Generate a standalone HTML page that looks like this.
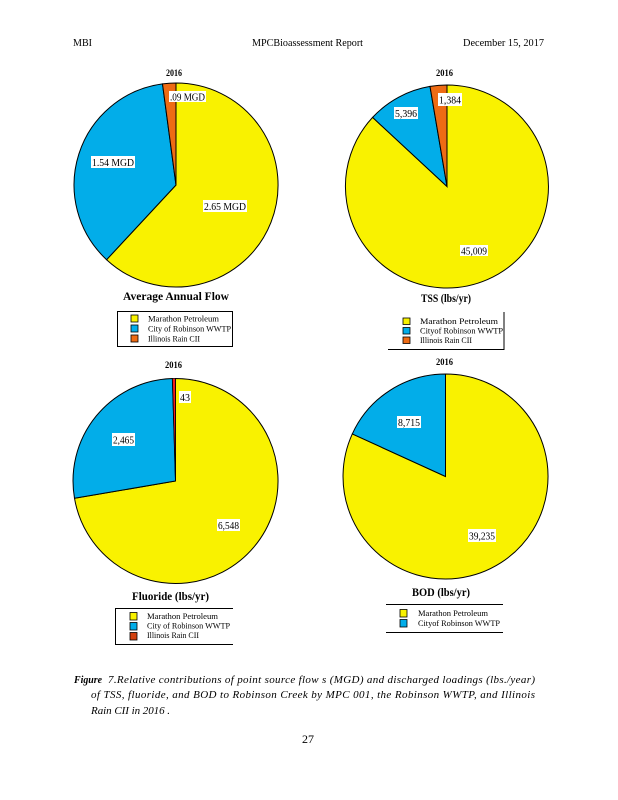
<!DOCTYPE html>
<html>
<head>
<meta charset="utf-8">
<style>
html,body{margin:0;padding:0;background:#fff;}
svg{display:block;}
text{font-family:"Liberation Serif",serif;fill:#000;}
</style>
</head>
<body>
<svg width="618" height="800" viewBox="0 0 618 800" xmlns="http://www.w3.org/2000/svg">
<rect width="618" height="800" fill="#fff"/>

<!-- Header -->
<text x="73" y="46" font-size="10.5" textLength="19" lengthAdjust="spacingAndGlyphs">MBI</text>
<text x="252" y="46" font-size="10.5" textLength="111" lengthAdjust="spacingAndGlyphs">MPCBioassessment Report</text>
<text x="463" y="46" font-size="10.5" textLength="81" lengthAdjust="spacingAndGlyphs">December  15, 2017</text>

<!-- ===== Top-left: Average Annual Flow ===== -->
<text x="166" y="76" font-size="9.5" font-weight="bold" textLength="16" lengthAdjust="spacingAndGlyphs">2016</text>
<g stroke="#000" stroke-width="1">
<path d="M176,185 L176,83 A102,102 0 1 1 106.6,259.7 Z" fill="#F9F200"/>
<path d="M176,185 L106.6,259.7 A102,102 0 0 1 162.5,83.9 Z" fill="#02ADE9"/>
<path d="M176,185 L162.5,83.9 A102,102 0 0 1 176,83 Z" fill="#EE6B14"/>
</g>
<rect x="169" y="91" width="37" height="11" fill="#fff"/>
<text x="170" y="100.5" font-size="10.5" textLength="35" lengthAdjust="spacingAndGlyphs">.09 MGD</text>
<rect x="91" y="156" width="44" height="12" fill="#fff"/>
<text x="92" y="166" font-size="10.5" textLength="42" lengthAdjust="spacingAndGlyphs">1.54 MGD</text>
<rect x="203" y="200" width="44" height="12" fill="#fff"/>
<text x="204" y="210" font-size="10.5" textLength="42" lengthAdjust="spacingAndGlyphs">2.65 MGD</text>
<text x="123" y="300" font-size="12" font-weight="bold" textLength="106" lengthAdjust="spacingAndGlyphs">Average    Annual    Flow</text>
<rect x="117.5" y="311.5" width="115" height="35" fill="#fff" stroke="#000" stroke-width="1"/>
<rect x="131" y="315" width="7" height="7" fill="#F9F200" stroke="#000" stroke-width="0.8"/>
<rect x="131" y="325" width="7" height="7" fill="#02ADE9" stroke="#000" stroke-width="0.8"/>
<rect x="131" y="335" width="7" height="7" fill="#EE6B14" stroke="#000" stroke-width="0.8"/>
<text x="148" y="321.5" font-size="8" textLength="71" lengthAdjust="spacingAndGlyphs">Marathon  Petroleum</text>
<text x="148" y="331.5" font-size="8" textLength="83" lengthAdjust="spacingAndGlyphs">City of Robinson  WWTP</text>
<text x="148" y="341.5" font-size="8" textLength="52" lengthAdjust="spacingAndGlyphs">Illinois Rain CII</text>

<!-- ===== Top-right: TSS ===== -->
<text x="436" y="76" font-size="9.5" font-weight="bold" textLength="17" lengthAdjust="spacingAndGlyphs">2016</text>
<g stroke="#000" stroke-width="1">
<path d="M447,186.5 L447,85 A101.5,101.5 0 1 1 372.6,117.4 Z" fill="#F9F200"/>
<path d="M447,186.5 L372.6,117.4 A101.5,101.5 0 0 1 430,86.4 Z" fill="#02ADE9"/>
<path d="M447,186.5 L430,86.4 A101.5,101.5 0 0 1 447,85 Z" fill="#EE6B14"/>
</g>
<rect x="438" y="93" width="24" height="13" fill="#fff"/>
<text x="439" y="103.5" font-size="10.5" textLength="22" lengthAdjust="spacingAndGlyphs">1,384</text>
<rect x="394" y="107" width="24" height="12" fill="#fff"/>
<text x="395" y="117" font-size="10.5" textLength="22" lengthAdjust="spacingAndGlyphs">5,396</text>
<rect x="460" y="245" width="28" height="11" fill="#fff"/>
<text x="461" y="254.5" font-size="10.5" textLength="26" lengthAdjust="spacingAndGlyphs">45,009</text>
<text x="421" y="302" font-size="12" font-weight="bold" textLength="50" lengthAdjust="spacingAndGlyphs">TSS  (lbs/yr)</text>
<line x1="504" y1="312" x2="504" y2="349.5" stroke="#000" stroke-width="1"/>
<line x1="388" y1="349.5" x2="504.5" y2="349.5" stroke="#000" stroke-width="1"/>
<rect x="403" y="318" width="7" height="6.5" fill="#F9F200" stroke="#000" stroke-width="0.8"/>
<rect x="403" y="327.5" width="7" height="6.5" fill="#02ADE9" stroke="#000" stroke-width="0.8"/>
<rect x="403" y="337" width="7" height="6.5" fill="#EE6B14" stroke="#000" stroke-width="0.8"/>
<text x="420" y="324" font-size="8" textLength="78" lengthAdjust="spacingAndGlyphs">Marathon  Petroleum</text>
<text x="420" y="333.5" font-size="8" textLength="83" lengthAdjust="spacingAndGlyphs">Cityof Robinson  WWTP</text>
<text x="420" y="343" font-size="8" textLength="52" lengthAdjust="spacingAndGlyphs">Illinois Rain CII</text>

<!-- ===== Bottom-left: Fluoride ===== -->
<text x="165" y="368" font-size="9.5" font-weight="bold" textLength="17" lengthAdjust="spacingAndGlyphs">2016</text>
<g stroke="#000" stroke-width="1">
<path d="M175.5,481 L175.5,378.5 A102.5,102.5 0 1 1 74.5,498.3 Z" fill="#F9F200"/>
<path d="M175.5,481 L74.5,498.3 A102.5,102.5 0 0 1 172.4,378.5 Z" fill="#02ADE9"/>
<path d="M175.5,481 L172.4,378.5 A102.5,102.5 0 0 1 175.5,378.5 Z" fill="#F01E1E" stroke-width="0.8"/>
</g>
<rect x="179" y="391" width="12" height="12" fill="#fff"/>
<text x="180" y="401" font-size="10.5" textLength="10" lengthAdjust="spacingAndGlyphs">43</text>
<rect x="112" y="433" width="23" height="13" fill="#fff"/>
<text x="113" y="443.5" font-size="10.5" textLength="21" lengthAdjust="spacingAndGlyphs">2,465</text>
<rect x="217" y="519" width="23" height="12" fill="#fff"/>
<text x="218" y="529" font-size="10.5" textLength="21" lengthAdjust="spacingAndGlyphs">6,548</text>
<text x="132" y="600" font-size="12" font-weight="bold" textLength="77" lengthAdjust="spacingAndGlyphs">Fluoride   (lbs/yr)</text>
<line x1="115" y1="608.5" x2="233" y2="608.5" stroke="#000" stroke-width="1"/>
<line x1="115" y1="644.5" x2="233" y2="644.5" stroke="#000" stroke-width="1"/>
<line x1="115.5" y1="608.5" x2="115.5" y2="644.5" stroke="#000" stroke-width="1"/>
<rect x="130" y="612.5" width="7" height="7.5" fill="#F9F200" stroke="#000" stroke-width="0.8"/>
<rect x="130" y="622.5" width="7" height="7.5" fill="#02ADE9" stroke="#000" stroke-width="0.8"/>
<rect x="130" y="632.5" width="7" height="7.5" fill="#D2400E" stroke="#000" stroke-width="0.8"/>
<text x="147" y="619" font-size="8" textLength="71" lengthAdjust="spacingAndGlyphs">Marathon  Petroleum</text>
<text x="147" y="628.5" font-size="8" textLength="83" lengthAdjust="spacingAndGlyphs">City of Robinson  WWTP</text>
<text x="147" y="638" font-size="8" textLength="52" lengthAdjust="spacingAndGlyphs">Illinois Rain CII</text>

<!-- ===== Bottom-right: BOD ===== -->
<text x="436" y="365" font-size="9.5" font-weight="bold" textLength="17" lengthAdjust="spacingAndGlyphs">2016</text>
<g stroke="#000" stroke-width="1">
<path d="M445.5,476.5 L445.5,374 A102.5,102.5 0 1 1 352.3,433.9 Z" fill="#F9F200"/>
<path d="M445.5,476.5 L352.3,433.9 A102.5,102.5 0 0 1 445.5,374 Z" fill="#02ADE9"/>
</g>
<rect x="397" y="416" width="24" height="12" fill="#fff"/>
<text x="398" y="426" font-size="10.5" textLength="22" lengthAdjust="spacingAndGlyphs">8,715</text>
<rect x="468" y="529" width="28" height="13" fill="#fff"/>
<text x="469" y="539.5" font-size="10.5" textLength="26" lengthAdjust="spacingAndGlyphs">39,235</text>
<text x="412" y="596" font-size="12" font-weight="bold" textLength="58" lengthAdjust="spacingAndGlyphs">BOD  (lbs/yr)</text>
<line x1="386" y1="604.5" x2="503" y2="604.5" stroke="#000" stroke-width="1"/>
<line x1="386" y1="632.5" x2="503" y2="632.5" stroke="#000" stroke-width="1"/>
<rect x="400" y="609.5" width="7" height="7.5" fill="#F9F200" stroke="#000" stroke-width="0.8"/>
<rect x="400" y="619.5" width="7" height="7.5" fill="#02ADE9" stroke="#000" stroke-width="0.8"/>
<text x="418" y="616" font-size="8" textLength="70" lengthAdjust="spacingAndGlyphs">Marathon  Petroleum</text>
<text x="418" y="626" font-size="8" textLength="82" lengthAdjust="spacingAndGlyphs">Cityof Robinson  WWTP</text>

<!-- Caption -->
<text x="74" y="683" font-size="11" font-weight="bold" font-style="italic" textLength="28" lengthAdjust="spacingAndGlyphs">Figure</text>
<text x="108" y="683" font-size="11" font-style="italic" textLength="427" lengthAdjust="spacing">7.Relative   contributions   of point   source  flow s (MGD)   and discharged   loadings   (lbs./year)</text>
<text x="91" y="698" font-size="11" font-style="italic" textLength="444" lengthAdjust="spacing">of TSS, fluoride,  and  BOD to  Robinson   Creek  by  MPC 001,  the  Robinson   WWTP,   and  Illinois</text>
<text x="91" y="714" font-size="11" font-style="italic" textLength="79" lengthAdjust="spacing">Rain  CII in  2016 .</text>

<!-- Page number -->
<text x="302" y="743" font-size="12" textLength="12" lengthAdjust="spacingAndGlyphs">27</text>
</svg>
</body>
</html>
